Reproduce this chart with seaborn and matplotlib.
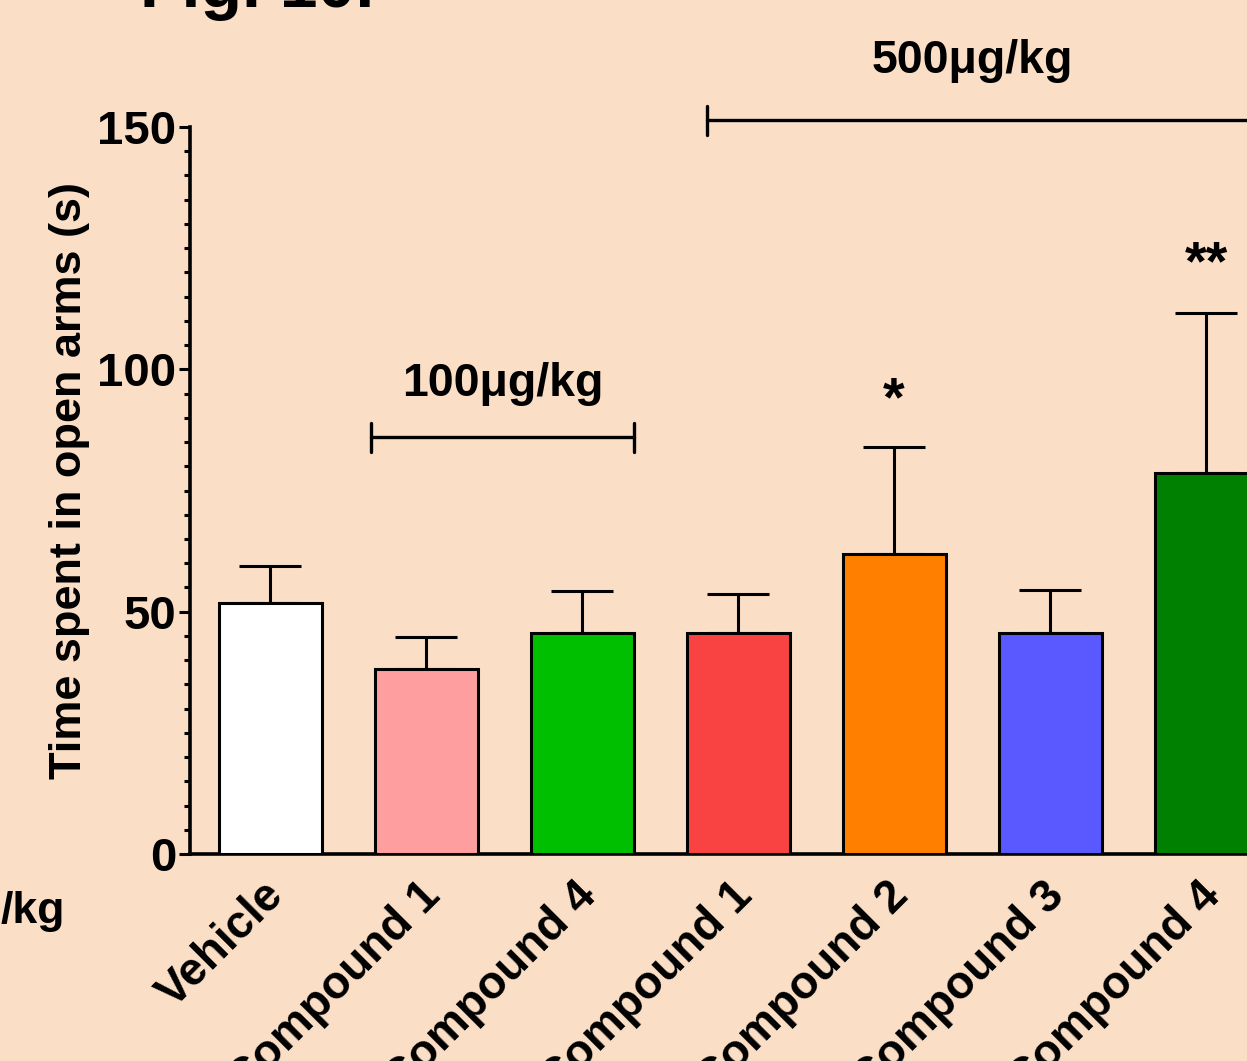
import numpy as np
import pandas as pd
import matplotlib
matplotlib.use("Agg")
import matplotlib.pyplot as plt
import matplotlib.transforms as mtransforms
import seaborn as sns
from matplotlib.ticker import MultipleLocator

# ---- data ----
groups = ["veh", "c1_100", "c4_100", "c1_500", "c2_500", "c3_500", "c4_500"]
tick_labels = ["Vehicle", "Compound 1", "Compound 4", "Compound 1",
               "Compound 2", "Compound 3", "Compound 4"]
means = [51.8, 38.2, 45.6, 45.6, 61.9, 45.6, 78.6]
sems = [7.6, 6.6, 8.7, 8.0, 22.1, 8.9, 33.0]
colors = ["#FFFFFF", "#FF9E9E", "#00BF00", "#F94343", "#FF8000", "#5959FF", "#008000"]
stars = ["", "", "", "", "*", "", "**"]
star_y = [0, 0, 0, 0, 93.5, 0, 121.5]

BG = "#FADEC6"

sns.set_theme(style="ticks")
plt.rcParams["font.family"] = ["Liberation Sans", "DejaVu Sans"]
plt.rcParams["font.weight"] = "bold"
for k in ["text.color", "axes.labelcolor", "xtick.color", "ytick.color", "axes.edgecolor"]:
    plt.rcParams[k] = "black"

W, H = 1247, 1061
fig = plt.figure(figsize=(W / 100, H / 100), dpi=100, facecolor=BG)

x_left = -0.513
x_right = 7.0
cat_px = 156
ax_w_px = (x_right - x_left) * cat_px
ax = fig.add_axes([190 / W, (H - 854) / H, ax_w_px / W, 727 / H])
ax.set_facecolor(BG)

df = pd.DataFrame({"group": groups, "mean": means})
sns.barplot(data=df, x="group", y="mean", hue="group", palette=colors,
            order=groups, hue_order=groups, width=0.66, legend=False,
            saturation=1, edgecolor="black", linewidth=2.2, errorbar=None,
            ax=ax, zorder=3)

xs = np.arange(len(groups))
ax.errorbar(xs, means, yerr=[np.zeros(len(sems)), sems], fmt="none",
            ecolor="black", elinewidth=2.2, capsize=22, capthick=2.2, zorder=2)

ax.set_xlim(x_left, x_right)
ax.set_ylim(0, 150)
ax.yaxis.set_major_locator(MultipleLocator(50))
ax.yaxis.set_minor_locator(MultipleLocator(5))
ax.tick_params(axis="y", which="major", length=8, width=2.2, labelsize=34, pad=2)
ax.tick_params(axis="y", which="minor", length=4.5, width=2.2)
ax.tick_params(axis="x", length=0, pad=14)
ax.set_xticks(xs)
ax.set_xticklabels(tick_labels, rotation=45, ha="right", rotation_mode="anchor",
                   fontsize=33, fontweight="bold")
offset = mtransforms.ScaledTranslation(-8 / 100, 0, fig.dpi_scale_trans)
for lab in ax.get_xticklabels():
    lab.set_transform(lab.get_transform() + offset)
for lab in ax.get_yticklabels():
    lab.set_fontweight("bold")

for side in ["top", "right"]:
    ax.spines[side].set_visible(False)
for side in ["left", "bottom"]:
    ax.spines[side].set_linewidth(2.6)
    ax.spines[side].set_color("black")

ax.set_xlabel("")
ax.set_ylabel("Time spent in open arms (s)", fontsize=32.5, fontweight="bold")
ax.yaxis.set_label_coords(-0.105 * (1172 / ax_w_px) * (ax_w_px / 1172) * 1.0 - 0.0, 0.514)
ax.yaxis.label.set_position((0, 0.514))
ax.yaxis.set_label_coords((70 - 190) / ax_w_px, 0.514)
ax.yaxis.label.set_va("center")

# significance stars
for xi, s, yy in zip(xs, stars, star_y):
    if s:
        ax.text(xi, yy, s, ha="center", va="center", fontsize=40,
                fontweight="bold", clip_on=False)

# dose brackets
def bracket(x0, x1, y, label, tx, ty, right_cap=True):
    ax.plot([x0, x1], [y, y], color="black", lw=2.4, clip_on=False, zorder=5)
    ax.plot([x0, x0], [y - 3, y + 3], color="black", lw=2.4, clip_on=False)
    if right_cap:
        ax.plot([x1, x1], [y - 3, y + 3], color="black", lw=2.4, clip_on=False)
    ax.text(tx, ty, label, ha="center", va="center", fontsize=33.5,
            fontweight="bold", clip_on=False)

bracket(0.65, 2.33, 86.0, "100μg/kg", 1.49, 97.0)
bracket(2.8, 6.9, 151.4, "500μg/kg", 4.5, 163.6, right_cap=False)

fig.text(140 / W, 1 - 7 / H, "Fig. 10.", ha="left", va="baseline",
         fontsize=49, fontweight="bold")
fig.text(65 / W, 1 - 912 / H, "/kg", ha="right", va="center",
         fontsize=32, fontweight="bold")

fig.savefig("out.png", dpi=100, facecolor=BG)
